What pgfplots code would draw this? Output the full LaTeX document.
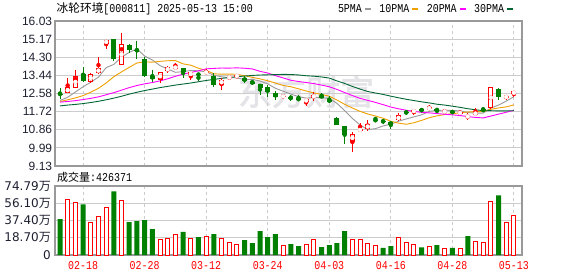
\documentclass[border=0pt]{standalone}
\usepackage{fontspec}
\usepackage{graphicx}
\usepackage{pgfplots}
\usepackage{pgfplotstable}
\pgfplotsset{compat=1.18}
\setmainfont{Liberation Sans}
\newfontfamily\cjk{Noto Sans CJK SC}
\newfontfamily\mono{Liberation Mono}
\newfontfamily\dvs{DejaVu Sans}
\newfontfamily\wmfont[FakeBold=2]{Noto Sans CJK SC}

\definecolor{kred}{HTML}{FF0000}
\definecolor{kgreen}{HTML}{008000}
\definecolor{ma5}{HTML}{999999}
\definecolor{ma10}{HTML}{F0A000}
\definecolor{ma20}{HTML}{FF00FF}
\definecolor{ma30}{HTML}{006633}
\definecolor{gridc}{HTML}{CCCCCC}
\definecolor{framec}{HTML}{999999}
\definecolor{labc}{HTML}{1E2030}
\definecolor{wm}{HTML}{E4E4E8}

\newcommand\sm[1]{\scalebox{0.83}[1]{\fontsize{12bp}{14bp}\selectfont\mono #1}}

% red candles: close >= open
\pgfplotstableread{
i o h l c
1 12.59 13.33 12.59 12.89
2 12.83 13.71 12.83 13.43
4 13.11 13.57 13.06 13.52
5 13.57 14.34 13.52 13.77
6 14.93 15.14 14.72 15.14
8 13.96 15.44 13.93 14.92
13 13.22 13.61 13.10 13.58
14 13.65 13.91 13.54 13.82
15 13.80 14.05 13.76 13.83
17 13.44 13.58 13.22 13.58
19 13.57 13.74 13.49 13.60
21 13.00 13.30 12.75 13.24
22 13.33 13.47 13.20 13.36
23 13.40 13.50 13.30 13.43
29 12.42 12.56 12.33 12.47
32 12.19 12.32 11.99 12.31
33 12.36 12.64 12.24 12.53
38 10.28 10.75 9.80 10.66
39 10.83 11.16 10.83 10.86
40 10.88 11.33 10.79 11.13
44 11.30 11.67 11.26 11.54
46 11.70 11.82 11.57 11.79
48 11.84 12.01 11.81 11.92
50 11.71 11.79 11.68 11.74
52 11.64 11.76 11.59 11.67
53 11.48 11.65 11.30 11.50
54 11.60 11.88 11.57 11.65
56 11.88 12.88 11.85 12.88
58 12.40 12.53 12.28 12.43
59 12.54 12.69 12.42 12.69
}\redK

% green candles: close < open
\pgfplotstableread{
i o h l c
0 12.56 12.83 12.33 12.55
3 13.49 13.83 13.11 13.19
7 15.15 15.17 14.15 14.21
9 14.89 14.95 14.53 14.64
10 14.67 15.06 14.21 14.61
11 14.20 14.32 13.36 13.43
12 13.41 13.68 13.14 13.28
16 13.79 13.79 13.33 13.58
18 13.49 13.49 13.17 13.48
20 13.43 13.54 12.89 12.99
24 13.33 13.41 13.06 13.17
25 13.14 13.24 12.99 13.06
26 13.03 13.03 12.51 12.86
27 12.88 12.99 12.43 12.67
28 12.62 12.70 12.28 12.39
30 12.40 12.50 12.23 12.37
31 12.36 12.51 12.23 12.26
34 12.45 12.59 12.36 12.42
35 12.25 12.47 12.12 12.22
36 11.41 11.48 11.07 11.07
37 11.05 11.05 10.19 10.60
41 11.32 11.48 11.26 11.29
42 11.26 11.37 11.15 11.24
43 11.22 11.26 10.91 11.10
45 11.70 11.81 11.54 11.67
47 11.85 11.88 11.70 11.73
49 11.84 11.88 11.63 11.76
51 11.71 11.79 11.60 11.69
55 11.85 11.96 11.70 11.73
57 12.78 12.86 12.26 12.40
}\greenK

% moving averages
\pgfplotstableread{
i m5 m10 m20 m30
0 12.25 12.20 12.17 11.99
1 12.40 12.28 12.20 12.03
2 12.65 12.37 12.24 12.06
3 12.90 12.48 12.29 12.10
4 13.116 12.64 12.35 12.15
5 13.36 12.83 12.42 12.21
6 13.81 13.08 12.52 12.28
7 13.966 13.38 12.62 12.36
8 14.312 13.61 12.74 12.45
9 14.536 13.826 12.86 12.55
10 14.704 14.032 12.96 12.64
11 14.362 14.086 13.04 12.72
12 14.176 14.071 13.10 12.79
13 13.908 14.11 13.18 12.86
14 13.744 14.14 13.28 12.92
15 13.588 14.146 13.40 12.98
16 13.618 13.99 13.50 13.03
17 13.678 13.927 13.58 13.08
18 13.658 13.783 13.66 13.14
19 13.614 13.679 13.753 13.20
20 13.446 13.517 13.775 13.25
21 13.378 13.498 13.792 13.30
22 13.334 13.506 13.789 13.34
23 13.324 13.491 13.80 13.38
24 13.238 13.426 13.783 13.41
25 13.252 13.349 13.748 13.44
26 13.176 13.277 13.634 13.46
27 13.038 13.186 13.557 13.47
28 12.83 13.077 13.43 13.48
29 12.69 12.964 13.322 13.49
30 12.552 12.902 13.21 13.484
31 12.432 12.804 13.151 13.463
32 12.36 12.699 13.103 13.425
33 12.388 12.609 13.05 13.403
34 12.378 12.534 12.98 13.367
35 12.348 12.45 12.90 13.315
36 12.11 12.271 12.774 13.179
37 11.768 12.064 12.625 13.059
38 11.394 11.891 12.484 12.917
39 11.082 11.73 12.347 12.791
40 10.864 11.606 12.254 12.675
41 10.908 11.509 12.157 12.604
42 11.036 11.402 12.05 12.536
43 11.124 11.259 11.934 12.453
44 11.26 11.171 11.853 12.377
45 11.368 11.116 11.783 12.305
46 11.468 11.188 11.73 12.245
47 11.566 11.301 11.683 12.184
48 11.73 11.427 11.659 12.132
49 11.774 11.517 11.624 12.07
50 11.788 11.578 11.592 12.029
51 11.768 11.618 11.564 11.977
52 11.756 11.661 11.532 11.921
53 11.672 11.701 11.48 11.856
54 11.65 11.712 11.442 11.806
55 11.648 11.718 11.417 11.761
56 11.886 11.827 11.508 11.762
57 12.032 11.894 11.598 11.753
58 12.218 11.945 11.686 11.754
59 12.426 12.038 11.778 11.762
}\MA

% volume (10^4 shares), red = up vs previous close
\pgfplotstableread{
i v
1 60.1
2 56.8
4 35.6
5 41.7
6 51.4
8 59.0
13 16.9
14 18.0
15 22.7
17 18.3
19 20.1
21 18.0
22 13.7
23 11.5
29 10.4
32 11.5
33 16.9
38 16.9
39 16.9
40 12.6
41 10.4
44 19.1
45 13.7
46 11.5
48 9.3
50 7.2
52 7.2
54 14.7
55 13.7
56 57.9
58 35.6
59 42.64
}\redV

\pgfplotstableread{
i v
0 38.8
3 55.0
7 69.0
9 35.6
10 36.7
11 37.8
12 28.0
16 25.2
18 19.4
20 22.7
24 16.2
25 12.9
26 25.9
27 19.4
28 22.7
30 11.9
31 9.7
34 8.6
35 10.8
36 12.9
37 25.9
42 7.6
43 9.7
47 8.3
49 10.8
51 7.6
53 20.5
57 64.7
}\greenV

\begin{document}
\begin{tikzpicture}
\useasboundingbox (0,0) rectangle (578bp,276bp);

% watermark
\node[text=wm, inner sep=0pt] at (306bp,184bp) {\fontsize{34bp}{36bp}\selectfont\wmfont 东方财富};

% title
\node[anchor=west, inner sep=0pt] at (56.5bp,267bp)
  {{\fontsize{11.7bp}{14bp}\selectfont\cjk 冰轮环境}\sm{[000811] 2025-05-13 15:00}};

% volume caption
\node[anchor=west, inner sep=0pt] at (57bp,99bp)
  {{\fontsize{11bp}{13bp}\selectfont\cjk 成交量}\sm{:426371}};

% ---------------- price panel ----------------
\begin{axis}[
  at={(55bp,110bp)}, anchor=south west,
  scale only axis, width=467bp, height=145bp,
  xmin=-0.65, xmax=60.05, ymin=9.13, ymax=16.03,
  xtick={3,11,19,27,35,43,51,59}, xticklabels={},
  ytick={9.13,9.99,10.86,11.72,12.58,13.44,14.30,15.17,16.03},
  yticklabels={9.13,9.99,10.86,11.72,12.58,13.44,14.30,15.17,16.03},
  major tick length=0pt,
  xmajorgrids, ymajorgrids,
  x grid style={gridc, dash pattern=on 3bp off 3bp, line width=0.9bp},
  y grid style={gridc, line width=0.9bp},
  axis line style={framec, line width=1.2bp},
  yticklabel style={font=\fontsize{12bp}{14bp}\selectfont, text=labc, inner sep=0pt, xshift=-2.7bp},
  legend columns=4,
  legend plot pos=right,
  legend image code/.code={\fill[#1, draw=none] (0bp,-1.4bp) rectangle (6bp,1.4bp);},
  legend style={draw=none, fill=none, inner sep=0pt, outer sep=0pt,
    at={(0.606,1.083)}, anchor=west, nodes={inner sep=0pt},
    /tikz/every odd column/.append style={column sep=3bp},
    /tikz/every even column/.append style={column sep=8.5bp}},
]
% moving averages
\addplot[color=ma5, line width=0.9bp, mark=none] table[x=i, y=m5] {\MA};
\addlegendentry{\sm{5PMA}}
\addplot[color=ma10, line width=0.9bp, mark=none] table[x=i, y=m10] {\MA};
\addlegendentry{\sm{10PMA}}
\addplot[color=ma20, line width=0.9bp, mark=none] table[x=i, y=m20] {\MA};
\addlegendentry{\sm{20PMA}}
\addplot[color=ma30, line width=0.9bp, mark=none] table[x=i, y=m30] {\MA};
\addlegendentry{\sm{30PMA}}

% green candles: wick + filled body
\addplot[forget plot, color=kgreen, only marks, mark=none,
  error bars/.cd, y dir=both, y explicit, error mark=none,
  error bar style={color=kgreen, line width=1bp}]
  table[x=i, y expr={(\thisrow{h}+\thisrow{l})/2}, y error expr={(\thisrow{h}-\thisrow{l})/2}] {\greenK};
\addplot[forget plot, color=kgreen, only marks, mark=none,
  error bars/.cd, y dir=both, y explicit, error mark=none,
  error bar style={color=kgreen, line width=5bp}]
  table[x=i, y expr={(\thisrow{o}+\thisrow{c})/2}, y error expr={max((\thisrow{o}-\thisrow{c})/2,0.024)}] {\greenK};

% red candles: wick + hollow body
\addplot[forget plot, color=kred, only marks, mark=none,
  error bars/.cd, y dir=both, y explicit, error mark=none,
  error bar style={color=kred, line width=1bp}]
  table[x=i, y expr={(\thisrow{h}+\thisrow{l})/2}, y error expr={(\thisrow{h}-\thisrow{l})/2}] {\redK};
\addplot[forget plot, color=kred, only marks, mark=none,
  error bars/.cd, y dir=both, y explicit, error mark=none,
  error bar style={color=kred, line width=5bp}]
  table[x=i, y expr={(\thisrow{o}+\thisrow{c})/2}, y error expr={max((\thisrow{c}-\thisrow{o})/2,0.024)}] {\redK};
\addplot[forget plot, color=white, only marks, mark=none,
  error bars/.cd, y dir=both, y explicit, error mark=none,
  error bar style={color=white, line width=3bp}]
  table[x=i, y expr={(\thisrow{o}+\thisrow{c})/2}, y error expr={max((\thisrow{c}-\thisrow{o})/2-0.0476,0)}] {\redK};
\end{axis}

% ---------------- volume panel ----------------
\begin{axis}[
  at={(55bp,21bp)}, anchor=south west,
  scale only axis, width=467bp, height=69bp,
  xmin=-0.65, xmax=60.05, ymin=0, ymax=74.79,
  xtick={3,11,19,27,35,43,51,59},
  xticklabels={\sm{02-18},\sm{02-28},\sm{03-12},\sm{03-24},\sm{04-03},\sm{04-16},\sm{04-28},\sm{05-13}},
  xticklabel style={text=kred, anchor=center, inner sep=0pt, yshift=-11bp},
  ytick={0,18.70,37.40,56.10,74.79},
  yticklabels={{\dvs 0},{\dvs 18.70}{\cjk 万},{\dvs 37.40}{\cjk 万},{\dvs 56.10}{\cjk 万},{\dvs 74.79}{\cjk 万}},
  yticklabel style={font=\fontsize{12bp}{14bp}\selectfont, text=labc, inner sep=0pt, xshift=-4bp},
  major tick length=0pt,
  xmajorgrids, ymajorgrids,
  x grid style={gridc, dash pattern=on 3bp off 3bp, line width=0.9bp},
  y grid style={gridc, line width=0.9bp},
  axis line style={framec, line width=1.2bp},
]
\addplot[ybar, bar width=5bp, bar shift=0pt, draw=none, fill=kgreen] table[x=i, y=v] {\greenV};
\addplot[ybar, bar width=4bp, bar shift=0pt, draw=kred, fill=white, line width=1bp] table[x=i, y=v] {\redV};
\end{axis}
\end{tikzpicture}
\end{document}
